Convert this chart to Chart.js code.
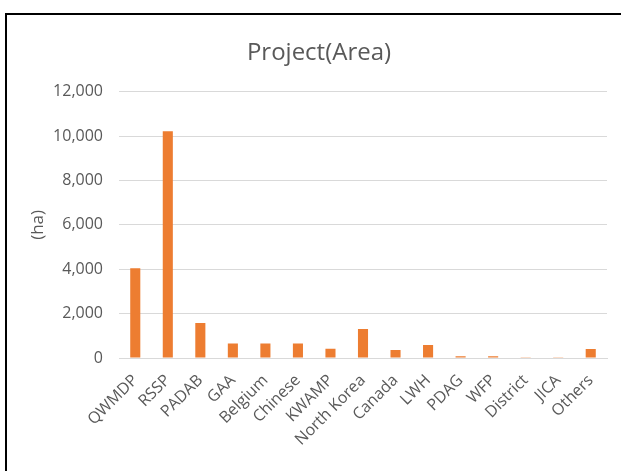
<!DOCTYPE html>
<html>
<head>
<meta charset="utf-8">
<script src="https://cdn.jsdelivr.net/npm/chart.js@4"></script>
<style>
  html, body { margin: 0; padding: 0; background: #fff; overflow: hidden; }
  #wrap { position: relative; width: 621px; height: 471px; }
  #frame { position: absolute; left: 5px; top: 13px; width: 700px; height: 600px; border: 2px solid #000; }
  #projChart { position: absolute; left: 0; top: 0; }
</style>
</head>
<body>
<div id="wrap">
  <div id="frame"></div>
  <canvas id="projChart" width="621" height="471"></canvas>
</div>
<script>
  // values
  var projects = ["QWMDP", "RSSP", "PADAB", "GAA", "Belgium", "Chinese", "KWAMP", "North Korea",
                  "Canada", "LWH", "PDAG", "WFP", "District", "JICA", "Others"];
  var areaHa = [4050, 10220, 1580, 650, 650, 650, 420, 1310, 360, 590, 75, 75, 10, 10, 410];
  var yTicks = [0, 2000, 4000, 6000, 8000, 10000, 12000];

  var textColor = "#595959";
  var gridColor = "#D9D9D9";
  var fontFamily = "'Open Sans', sans-serif";

  var ctxProjChart = document.getElementById("projChart").getContext("2d");

  var projChart = new Chart(ctxProjChart, {
    type: "bar",
    data: {
      labels: projects,
      datasets: [{
        label: "Area",
        data: areaHa,
        backgroundColor: "#ED7D31",
        borderWidth: 0,
        barPercentage: 0.31,
        categoryPercentage: 1
      }]
    },
    options: {
      responsive: false,
      animation: false,
      // left padding shifts the title centre to match the frame
      layout: { padding: { left: 31, right: 14, top: 0, bottom: 0 } },
      plugins: {
        legend: { display: false },
        tooltip: { enabled: false },
        title: {
          display: true,
          text: "Project(Area)",
          color: textColor,
          font: { family: fontFamily, size: 24, weight: "normal" },
          padding: { top: 39, bottom: 24 }
        }
      },
      scales: {
        x: {
          grid: { display: false },
          border: { display: true, color: gridColor, width: 1 },
          ticks: {
            color: textColor,
            font: { family: fontFamily, size: 16 },
            minRotation: 45,
            maxRotation: 45,
            autoSkip: false,
            padding: 5
          },
          afterFit: (scale) => { scale.height = 113; }
        },
        y: {
          min: 0,
          max: 12000,
          afterBuildTicks: (scale) => { scale.ticks = yTicks.map(v => ({ value: v })); },
          grid: { color: gridColor, drawTicks: false },
          border: { display: false },
          ticks: {
            color: textColor,
            font: { family: fontFamily, size: 16 },
            padding: 16,
            callback: (v) => v.toLocaleString("en-US")
          },
          title: {
            display: true,
            text: "(ha)",
            color: textColor,
            font: { family: fontFamily, size: 17, lineHeight: 0.8 },
            padding: { top: 0, bottom: 0 }
          },
          afterFit: (scale) => { scale.width = 88; }
        }
      }
    }
  });
</script>
</body>
</html>
